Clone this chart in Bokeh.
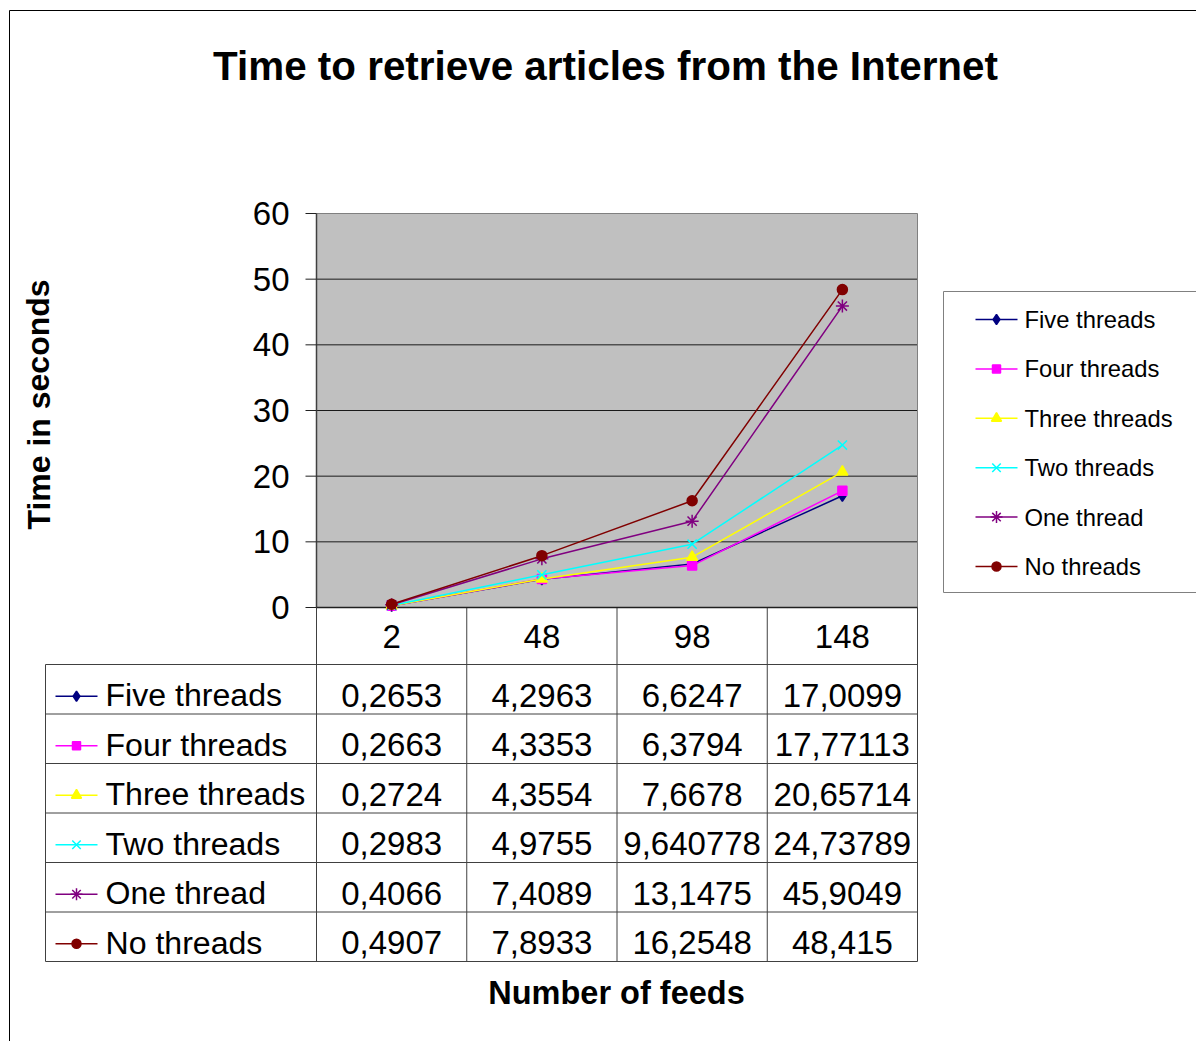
from bokeh.plotting import figure
from bokeh.models import Range1d
from bokeh.core.properties import value
from bokeh.embed import file_html
from bokeh.resources import INLINE

# ---------------- data ----------------
feeds = ["2", "48", "98", "148"]
series_names = ["Five threads", "Four threads", "Three threads",
                "Two threads", "One thread", "No threads"]
five_threads = [0.2653, 4.2963, 6.6247, 17.0099]
four_threads = [0.2663, 4.3353, 6.3794, 17.77113]
three_threads = [0.2724, 4.3554, 7.6678, 20.65714]
two_threads = [0.2983, 4.9755, 9.640778, 24.73789]
one_thread = [0.4066, 7.4089, 13.1475, 45.9049]
no_threads = [0.4907, 7.8933, 16.2548, 48.415]
y_ticks = [0, 10, 20, 30, 40, 50, 60]
title_text = "Time to retrieve articles from the Internet"
y_title = "Time in seconds"
x_title = "Number of feeds"

series_values = [five_threads, four_threads, three_threads,
                 two_threads, one_thread, no_threads]
colors = ["#000080", "#FF00FF", "#FFFF00", "#00FFFF", "#800080", "#800000"]
markers = ["diamond", "square", "triangle", "x", "asterisk", "circle"]
msizes = [11, 9, 11, 13, 13, 10]

# ---------------- layout (pixels) ----------------
W, H = 1196, 1041
L, R, T, B = 316, 917, 213, 607
ncat = len(feeds)
ymax = y_ticks[-1]
cw = (R - L) / ncat
py = (B - T) / ymax
FONT = value("Liberation Sans")

p = figure(width=W, height=H, x_range=Range1d(0, W), y_range=Range1d(H, 0),
           min_border=0, toolbar_location=None, output_backend="svg",
           x_axis_type=None, y_axis_type=None, title=None)
p.outline_line_color = None
p.background_fill_color = "white"
p.border_fill_color = "white"
p.xgrid.visible = False
p.ygrid.visible = False
p.extra_x_ranges = {"cat": Range1d(-0.5 - L / cw, ncat - 0.5 + (W - R) / cw)}
p.extra_y_ranges = {"val": Range1d(-(H - B) / py, ymax + T / py)}

# outer border
p.segment(x0=[9, 9], y0=[10, 10], x1=[9, W + 5], y1=[H + 5, 10],
          line_color="#000000", line_width=1)

# title
p.text(x=[605], y=[65], text=[title_text], text_font=FONT, text_font_size="40.4px",
       text_font_style="bold", text_align="center", text_baseline="middle",
       text_color="black")

# plot area background
p.quad(left=[-0.5], right=[ncat - 0.5], bottom=[0], top=[ymax],
       x_range_name="cat", y_range_name="val", fill_color="#C0C0C0", line_color=None)
# gridlines
gy = y_ticks[1:-1]
p.segment(x0=[-0.5] * len(gy), x1=[ncat - 0.5] * len(gy), y0=gy, y1=gy,
          x_range_name="cat", y_range_name="val", line_color="#1a1a1a", line_width=1)
# top & right border of plot area
p.segment(x0=[-0.5, ncat - 0.5], x1=[ncat - 0.5, ncat - 0.5], y0=[ymax, ymax], y1=[ymax, 0],
          x_range_name="cat", y_range_name="val", line_color="#808080", line_width=1)
# y axis line
p.segment(x0=[-0.5], x1=[-0.5], y0=[0], y1=[ymax],
          x_range_name="cat", y_range_name="val", line_color="#404040", line_width=1.5)
# ticks
p.segment(x0=[L - 11] * len(y_ticks), x1=[L] * len(y_ticks), y0=y_ticks, y1=y_ticks,
          y_range_name="val", line_color="#202020", line_width=1)
p.text(x=[L - 27] * len(y_ticks), y=y_ticks, text=[str(t) for t in y_ticks],
       y_range_name="val", text_font=FONT, text_font_size="33px",
       text_align="right", text_baseline="middle", text_color="black")

# y title
p.text(x=[38], y=[404], text=[y_title], angle=1.5708, text_font=FONT,
       text_font_size="32px", text_font_style="bold", text_align="center",
       text_baseline="middle", text_color="black")

# ---------------- data table ----------------
header_h = 57
row_h = 49.5
row_top = B + header_h
table_bottom = row_top + row_h * len(series_names)
TL = 45
line_col = "#404040"

# vertical lines (category column edges)
edges = [i - 0.5 for i in range(ncat + 1)]
p.segment(x0=edges, x1=edges, y0=[B] * len(edges), y1=[table_bottom] * len(edges),
          x_range_name="cat", line_color=line_col, line_width=1)
p.segment(x0=[TL], x1=[TL], y0=[row_top], y1=[table_bottom], line_color=line_col, line_width=1)
# horizontal lines
p.segment(x0=[-0.5], x1=[ncat - 0.5], y0=[0], y1=[0],
          x_range_name="cat", y_range_name="val", line_color="#202020", line_width=1.5)
hy = [row_top + k * row_h for k in range(len(series_names) + 1)]
p.segment(x0=[TL] * len(hy), x1=[R] * len(hy), y0=hy, y1=hy, line_color=line_col, line_width=1)

# header (categories)
p.text(x=list(range(ncat)), y=[B + header_h / 2] * ncat, text=feeds, x_range_name="cat",
       text_font=FONT, text_font_size="33px", text_align="center", text_baseline="middle",
       text_color="black")

for k, (name, vals, col, mk, ms) in enumerate(zip(series_names, series_values, colors, markers, msizes)):
    rc = row_top + row_h * k + row_h / 2
    labels = [str(v).replace(".", ",") for v in vals]
    p.text(x=list(range(ncat)), y=[rc + 6] * ncat, text=labels, x_range_name="cat",
           text_font=FONT, text_font_size="33px", text_align="center",
           text_baseline="middle", text_color="black")
    p.text(x=[105], y=[rc + 6], text=[name], text_font=FONT, text_font_size="32.1px",
           text_align="left", text_baseline="middle", text_color="black")
    p.segment(x0=[55], x1=[97], y0=[rc + 7], y1=[rc + 7], line_color=col, line_width=1.5)
    p.scatter(x=[76], y=[rc + 7], marker=mk, size=ms - 1, fill_color=col, line_color=col,
              line_width=1.5)

# x title
p.text(x=[616], y=[992], text=[x_title], text_font=FONT, text_font_size="32.5px",
       text_font_style="bold", text_align="center", text_baseline="middle", text_color="black")

# ---------------- series lines ----------------
xs = list(range(ncat))
for name, vals, col, mk, ms in zip(series_names, series_values, colors, markers, msizes):
    p.line(x=xs, y=vals, x_range_name="cat", y_range_name="val", line_color=col, line_width=1.5)
    p.scatter(x=xs, y=vals, x_range_name="cat", y_range_name="val", marker=mk, size=ms,
              fill_color=col, line_color=col, line_width=1.5)

# ---------------- legend ----------------
p.quad(left=[943], right=[W + 10], top=[291], bottom=[592], fill_color="white",
       line_color="#808080", line_width=1)
for k, (name, col, mk, ms) in enumerate(zip(series_names, colors, markers, msizes)):
    ly = 319 + k * 49.4
    p.segment(x0=[975], x1=[1017], y0=[ly], y1=[ly], line_color=col, line_width=1.5)
    p.scatter(x=[996], y=[ly], marker=mk, size=ms - 1, fill_color=col, line_color=col,
              line_width=1.5)
    p.text(x=[1024], y=[ly], text=[name], text_font=FONT, text_font_size="23.8px",
           text_align="left", text_baseline="middle", text_color="black")

open("out.html", "w").write(file_html(p, INLINE))
